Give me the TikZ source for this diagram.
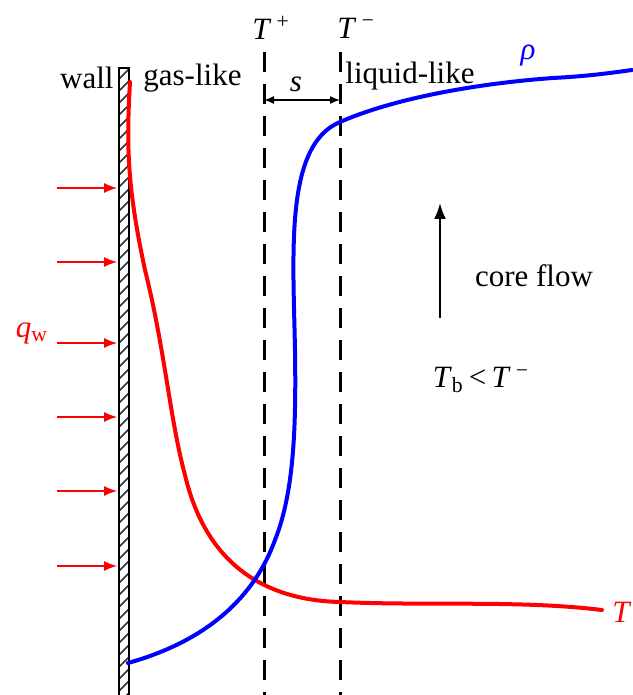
\documentclass[tikz,border=0pt]{standalone}
\usepackage{fontspec}
\setmainfont{Liberation Serif}
\usetikzlibrary{arrows.meta, calc}
\definecolor{FluxRed}{RGB}{255,0,0}
\definecolor{RhoBlue}{RGB}{0,0,255}
\definecolor{HatchGray}{HTML}{303030}
\tikzset{
    label text/.style={font=\fontsize{15.5}{18}\selectfont, inner sep=0pt},
    interface line/.style={black, line width=1.5pt, dash pattern=on 10pt off 6pt},
    flux arrow/.style={FluxRed, line width=0.6pt, -{Latex[length=6.5pt, width=5pt]}},
    profile/.style={line width=2pt, line cap=round, line join=round},
}
\NewDocumentCommand{\WallHatch}{}{
    \begin{scope}
    \clip (119,68) rectangle (129,700);
    \foreach \y in {74,86,...,710}
        \draw[HatchGray, line width=0.8pt] (119,\y+5) -- (129,\y-5);
    \end{scope}
}

\begin{document}
\begin{tikzpicture}[x=0.5pt, y=-0.5pt]
\useasboundingbox (0,0) rectangle (632,695);

% interfaces and wall
\coordinate (Tplus-top) at (264,52);
\coordinate (Tplus-bot) at (264,695);
\coordinate (Tminus-top) at (340,52);
\coordinate (Tminus-bot) at (340,695);
\draw[interface line] (Tplus-top) -- (Tplus-bot);
\draw[interface line] (Tminus-top) -- (Tminus-bot);

\WallHatch
\draw[black, line width=0.6pt] (119,700) -- (119,68) -- (129,68) -- (129,700);

% heat flux
\foreach \y [count=\i] in {188,262,343,417,491,566}{
    \coordinate (flux-\i-tail) at (57,\y);
    \coordinate (flux-\i-head) at (117,\y);
    \draw[flux arrow] (flux-\i-tail) -- (flux-\i-head);
}

% profiles
\draw[profile, FluxRed] (130,82) .. controls (126,150) and (128,190) .. (145,270)
    .. controls (165,350) and (170,420) .. (185,475)
    .. controls (205,560) and (260,600) .. (340,602)
    .. controls (430,606) and (520,600) .. (602,610);
\draw[profile, RhoBlue] (128,663) .. controls (210,640) and (255,595) .. (275,540)
    .. controls (295,490) and (296,420) .. (295,350)
    .. controls (293,250) and (285,145) .. (340,122)
    .. controls (390,100) and (470,84) .. (553,78)
    .. controls (590,76) and (610,73) .. (632,70);

% spacing s
\coordinate (s-left) at (264,100);
\coordinate (s-right) at (340,100);
\draw[black, line width=0.7pt, {Latex[length=5pt, width=4pt]}-{Latex[length=5pt, width=4pt]}] (s-left) -- (s-right);
\node[label text] (s-label) at (296,84) {\textit{s}};

% core flow
\coordinate (flow-tail) at (440,318);
\coordinate (flow-head) at (440,203);
\draw[black, line width=1pt, -{Latex[length=8pt, width=6pt]}] (flow-tail) -- (flow-head);

% labels
\node[label text, anchor=east] (wall) at (114,78) {wall};
\node[label text, anchor=west] (gas) at (143,78) {gas-like};
\node[label text, anchor=west] (liquid) at (345,76) {liquid-like};
\node[label text] (Tplus) at (271,28) {\textit{T}\,\textsuperscript{+}};
\node[label text] (Tminus) at (356,28) {\textit{T}\,\textsuperscript{−}};
\node[label text, text=RhoBlue] (rho) at (528,56) {\textit{ρ}};
\node[label text, text=FluxRed] (Tlabel) at (622,612) {\textit{T}};
\node[label text, text=FluxRed] (qw) at (32,333) {\textit{q}\textsubscript{w}};
\node[label text] (core) at (534,276) {core flow};
\node[label text] (Tb) at (481,380) {\textit{T}\textsubscript{b}\,<\,\textit{T}\,\textsuperscript{−}};
\end{tikzpicture}
\end{document}
